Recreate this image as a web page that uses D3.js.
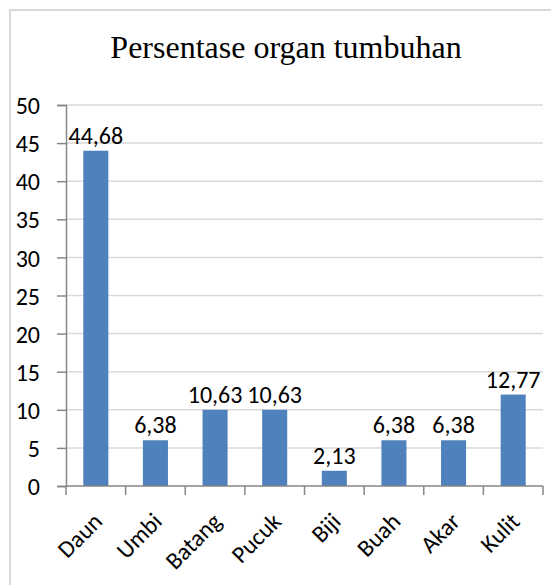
<!DOCTYPE html>
<html>
<head>
<meta charset="utf-8">
<script src="https://cdn.jsdelivr.net/npm/d3@7"></script>
<style>
  body { margin: 0; background: #fff; }
  svg { display: block; }
  .lbl { font-family: Carlito, Calibri, Lato, sans-serif; font-size: 24px; fill: #000; }
</style>
</head>
<body>
<svg id="chart" width="551" height="585"></svg>
<script>
// --- Data ---
const categories = ["Daun", "Umbi", "Batang", "Pucuk", "Biji", "Buah", "Akar", "Kulit"];
// bar heights as drawn in the picture (whole numbers)
const barValues = [44, 6, 10, 10, 2, 6, 6, 12];
// data labels as printed above the bars
const labelValues = ["44,68", "6,38", "10,63", "10,63", "2,13", "6,38", "6,38", "12,77"];
const yTicks = [0, 5, 10, 15, 20, 25, 30, 35, 40, 45, 50];
const title = "Persentase organ tumbuhan";

// --- Setup ---
const svg = d3.select("#chart");
const plotLeft = 66, plotRight = 543, plotTop = 105, plotBottom = 486;

// outer chart border (cropped at right/bottom)
svg.append("path")
    .attr("d", "M10,585 V10 H551")
    .attr("fill", "none")
    .attr("stroke", "#d9d9d9")
    .attr("stroke-width", 2);

const x = d3.scaleBand().domain(categories).range([plotLeft, plotRight]).padding(0);
const y = d3.scaleLinear().domain([0, 50]).range([plotBottom, plotTop]);

// title
svg.append("text")
    .attr("x", 286)
    .attr("y", 58)
    .attr("text-anchor", "middle")
    .style("font-family", "'Liberation Serif', 'Times New Roman', serif")
    .style("font-size", "32px")
    .text(title);

// gridlines
svg.append("g")
    .selectAll("line")
    .data(yTicks.filter(d => d > 0))
    .enter().append("line")
    .attr("x1", plotLeft).attr("x2", plotRight)
    .attr("y1", d => y(d)).attr("y2", d => y(d))
    .attr("stroke", "#d9d9d9")
    .attr("stroke-width", 1.5);

// y axis
const yAxis = svg.append("g")
    .attr("transform", `translate(${plotLeft},0)`)
    .call(d3.axisLeft(y).tickValues(yTicks).tickSize(9).tickPadding(17).tickFormat(d3.format("d")));
yAxis.select(".domain").attr("stroke", "#868686").attr("stroke-width", 1.5);
yAxis.selectAll(".tick line").attr("stroke", "#868686").attr("stroke-width", 1.5);
yAxis.selectAll(".tick text").attr("class", "lbl").attr("dy", "0.36em");

// bars
const barW = x.bandwidth() * 0.42;
svg.append("g")
    .selectAll("rect")
    .data(categories)
    .enter().append("rect")
    .attr("x", (d) => x(d) + (x.bandwidth() - barW) / 2)
    .attr("y", (d, i) => y(barValues[i]))
    .attr("width", barW)
    .attr("height", (d, i) => y(0) - y(barValues[i]))
    .attr("fill", "#4f81bd");

// data labels
svg.append("g")
    .selectAll("text")
    .data(categories)
    .enter().append("text")
    .attr("class", "lbl")
    .attr("x", d => x(d) + x.bandwidth() / 2)
    .attr("y", (d, i) => y(barValues[i]) - 7)
    .attr("text-anchor", "middle")
    .text((d, i) => labelValues[i]);

// x axis line and ticks at band edges
const xg = svg.append("g");
xg.append("line")
    .attr("x1", plotLeft).attr("x2", plotRight)
    .attr("y1", plotBottom).attr("y2", plotBottom)
    .attr("stroke", "#868686").attr("stroke-width", 1.5);
const edges = categories.map(d => x(d)).concat([plotRight]);
xg.selectAll(".xt")
    .data(edges)
    .enter().append("line")
    .attr("class", "xt")
    .attr("x1", d => d).attr("x2", d => d)
    .attr("y1", plotBottom).attr("y2", plotBottom + 9)
    .attr("stroke", "#868686").attr("stroke-width", 1.5);

// rotated category labels
xg.selectAll(".xl")
    .data(categories)
    .enter().append("text")
    .attr("class", "lbl")
    .attr("text-anchor", "end")
    .attr("transform", d => `translate(${x(d) + x.bandwidth() / 2 + 2},${plotBottom + 31}) rotate(-45)`)
    .attr("dy", "0.35em")
    .text(d => d);
</script>
</body>
</html>
